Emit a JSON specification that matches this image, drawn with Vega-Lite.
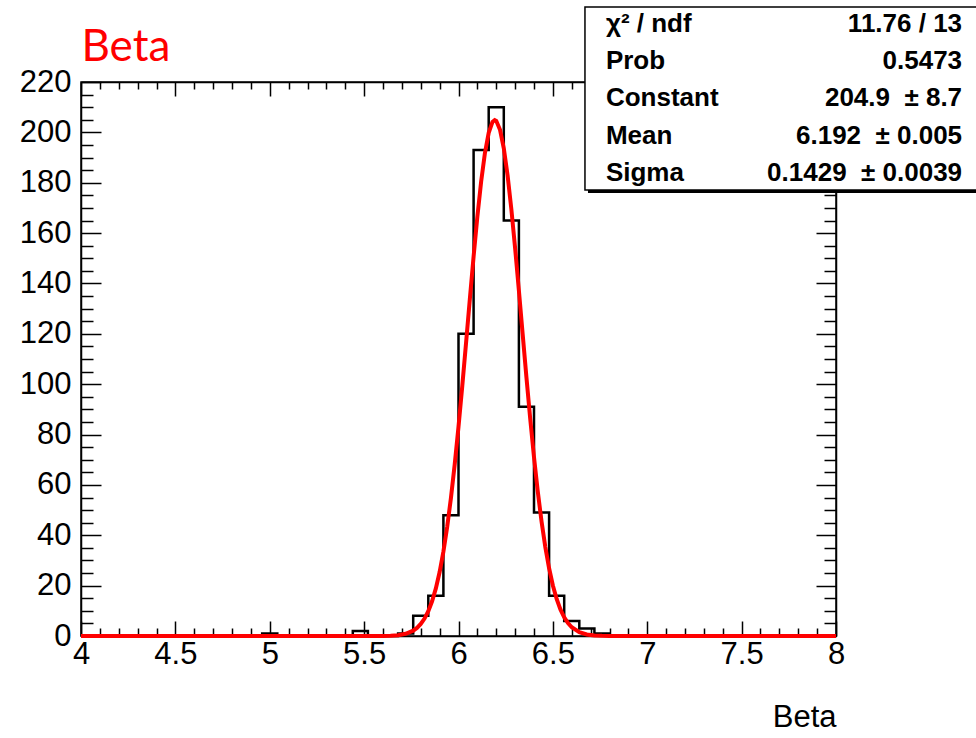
{
  "$schema": "https://vega.github.io/schema/vega-lite/v6.json",
  "width": 755,
  "height": 554,
  "autosize": "none",
  "padding": {"left": 81, "top": 82, "right": 140, "bottom": 102},
  "background": "white",
  "config": {
    "view": {"stroke": "black", "strokeWidth": 1.5},
    "axis": {"grid": false, "labelFont": "Liberation Sans", "labelFontSize": 31, "labelColor": "black", "tickColor": "black", "tickWidth": 1.5, "domainColor": "black", "domainWidth": 1.5, "titleFont": "Liberation Sans", "titleFontSize": 31, "titleFontWeight": "normal", "titleColor": "black", "labelOverlap": false, "labelFlush": false}
  },
  "datasets": {
    "hist": [
      {"low": 4.00, "count": 0}, {"low": 4.08, "count": 0}, {"low": 4.16, "count": 0}, {"low": 4.24, "count": 0},
      {"low": 4.32, "count": 0}, {"low": 4.40, "count": 0}, {"low": 4.48, "count": 0}, {"low": 4.56, "count": 0},
      {"low": 4.64, "count": 0}, {"low": 4.72, "count": 0}, {"low": 4.80, "count": 0}, {"low": 4.88, "count": 0},
      {"low": 4.96, "count": 1}, {"low": 5.04, "count": 0}, {"low": 5.12, "count": 0}, {"low": 5.20, "count": 0},
      {"low": 5.28, "count": 0}, {"low": 5.36, "count": 0}, {"low": 5.44, "count": 2}, {"low": 5.52, "count": 0},
      {"low": 5.60, "count": 0}, {"low": 5.68, "count": 1}, {"low": 5.76, "count": 8}, {"low": 5.84, "count": 16},
      {"low": 5.92, "count": 48}, {"low": 6.00, "count": 120}, {"low": 6.08, "count": 193}, {"low": 6.16, "count": 210},
      {"low": 6.24, "count": 165}, {"low": 6.32, "count": 91}, {"low": 6.40, "count": 49}, {"low": 6.48, "count": 16},
      {"low": 6.56, "count": 6}, {"low": 6.64, "count": 3}, {"low": 6.72, "count": 1}, {"low": 6.80, "count": 0},
      {"low": 6.88, "count": 0}, {"low": 6.96, "count": 0}, {"low": 7.04, "count": 0}, {"low": 7.12, "count": 0},
      {"low": 7.20, "count": 0}, {"low": 7.28, "count": 0}, {"low": 7.36, "count": 0}, {"low": 7.44, "count": 0},
      {"low": 7.52, "count": 0}, {"low": 7.60, "count": 0}, {"low": 7.68, "count": 0}, {"low": 7.76, "count": 0},
      {"low": 7.84, "count": 0}, {"low": 7.92, "count": 0}, {"low": 8.00, "count": 0}
    ],
    "fit": [
      {"x": 4.0, "f": 0}, {"x": 5.0, "f": 0}, {"x": 5.5, "f": 0.001}, {"x": 5.6, "f": 0.038}, {"x": 5.64, "f": 0.118},
      {"x": 5.68, "f": 0.334}, {"x": 5.72, "f": 0.876}, {"x": 5.76, "f": 2.124}, {"x": 5.78, "f": 3.211},
      {"x": 5.80, "f": 4.760}, {"x": 5.82, "f": 6.919}, {"x": 5.84, "f": 9.862}, {"x": 5.86, "f": 13.78},
      {"x": 5.88, "f": 18.90}, {"x": 5.90, "f": 25.40}, {"x": 5.92, "f": 33.49}, {"x": 5.94, "f": 43.28},
      {"x": 5.96, "f": 54.85}, {"x": 5.98, "f": 68.17}, {"x": 6.00, "f": 83.09}, {"x": 6.02, "f": 99.30},
      {"x": 6.04, "f": 116.37}, {"x": 6.06, "f": 133.73}, {"x": 6.08, "f": 150.71}, {"x": 6.10, "f": 166.55},
      {"x": 6.12, "f": 180.47}, {"x": 6.14, "f": 191.77}, {"x": 6.16, "f": 199.83}, {"x": 6.18, "f": 204.18},
      {"x": 6.192, "f": 204.9}, {"x": 6.20, "f": 204.58}, {"x": 6.22, "f": 201.01}, {"x": 6.24, "f": 193.66},
      {"x": 6.26, "f": 182.97}, {"x": 6.28, "f": 169.51}, {"x": 6.30, "f": 154.00}, {"x": 6.32, "f": 137.18},
      {"x": 6.34, "f": 119.84}, {"x": 6.36, "f": 102.67}, {"x": 6.38, "f": 86.24}, {"x": 6.40, "f": 71.04},
      {"x": 6.42, "f": 57.38}, {"x": 6.44, "f": 45.45}, {"x": 6.46, "f": 35.30}, {"x": 6.48, "f": 26.89},
      {"x": 6.50, "f": 20.08}, {"x": 6.52, "f": 14.71}, {"x": 6.54, "f": 10.56}, {"x": 6.56, "f": 7.44},
      {"x": 6.58, "f": 5.14}, {"x": 6.60, "f": 3.48}, {"x": 6.64, "f": 1.50}, {"x": 6.68, "f": 0.60},
      {"x": 6.72, "f": 0.22}, {"x": 6.76, "f": 0.076}, {"x": 6.80, "f": 0.024}, {"x": 7.0, "f": 0}, {"x": 8.0, "f": 0}
    ],
    "stats": [
      {"row": 0, "label": "χ² / ndf", "value": "11.76 / 13"},
      {"row": 1, "label": "Prob", "value": "0.5473"},
      {"row": 2, "label": "Constant", "value": "204.9\u00a0 ± 8.7"},
      {"row": 3, "label": "Mean", "value": "6.192\u00a0 ± 0.005"},
      {"row": 4, "label": "Sigma", "value": "0.1429\u00a0 ± 0.0039"}
    ]
  },
  "resolve": {"scale": {"y": "independent"}, "axis": {"x": "independent", "y": "independent"}},
  "layer": [
    {
      "data": {"name": "hist"},
      "mark": {"type": "line", "interpolate": "step-after", "color": "black", "strokeWidth": 2.5},
      "encoding": {
        "x": {"field": "low", "type": "quantitative", "scale": {"domain": [4, 8], "nice": false, "zero": false},
          "axis": {"orient": "bottom", "title": "Beta", "titleAnchor": "end", "titlePadding": 26,
            "values": [4,4.1,4.2,4.3,4.4,4.5,4.6,4.7,4.8,4.9,5,5.1,5.2,5.3,5.4,5.5,5.6,5.7,5.8,5.9,6,6.1,6.2,6.3,6.4,6.5,6.6,6.7,6.8,6.9,7,7.1,7.2,7.3,7.4,7.5,7.6,7.7,7.8,7.9,8],
            "labelExpr": "abs(datum.value*2 - round(datum.value*2)) < 0.001 ? format(datum.value, '~g') : ''",
            "tickSize": {"condition": {"test": "abs(datum.value*2 - round(datum.value*2)) < 0.001", "value": -15}, "value": -8},
            "labelPadding": 18}},
        "y": {"field": "count", "type": "quantitative", "scale": {"domain": [0, 220], "nice": false},
          "axis": {"orient": "left", "title": null,
            "values": [0,5,10,15,20,25,30,35,40,45,50,55,60,65,70,75,80,85,90,95,100,105,110,115,120,125,130,135,140,145,150,155,160,165,170,175,180,185,190,195,200,205,210,215,220],
            "labelExpr": "datum.value % 20 == 0 ? datum.label : ''",
            "tickSize": {"condition": {"test": "datum.value % 20 == 0", "value": -20}, "value": -12},
            "labelPadding": 30}}
      }
    },
    {
      "data": {"name": "fit"},
      "mark": {"type": "line", "color": "#ff0000", "strokeWidth": 4},
      "encoding": {
        "x": {"field": "x", "type": "quantitative", "scale": {"domain": [4, 8], "nice": false, "zero": false},
          "axis": {"orient": "top", "title": "Beta", "titleColor": "#ff0000", "titleFont": "Lato", "titleFontSize": 44, "titleFontWeight": "normal",
            "titleAnchor": "start", "titleAlign": "left", "titleBaseline": "alphabetic", "titlePadding": 21, "labels": false,
            "values": [4,4.1,4.2,4.3,4.4,4.5,4.6,4.7,4.8,4.9,5,5.1,5.2,5.3,5.4,5.5,5.6,5.7,5.8,5.9,6,6.1,6.2,6.3,6.4,6.5,6.6,6.7,6.8,6.9,7,7.1,7.2,7.3,7.4,7.5,7.6,7.7,7.8,7.9,8],
            "tickSize": {"condition": {"test": "abs(datum.value*2 - round(datum.value*2)) < 0.001", "value": -14}, "value": -7}}},
        "y": {"field": "f", "type": "quantitative", "scale": {"domain": [0, 220], "nice": false},
          "axis": {"orient": "right", "title": null, "labels": false,
            "values": [0,5,10,15,20,25,30,35,40,45,50,55,60,65,70,75,80,85,90,95,100,105,110,115,120,125,130,135,140,145,150,155,160,165,170,175,180,185,190,195,200,205,210,215,220],
            "tickSize": {"condition": {"test": "datum.value % 20 == 0", "value": -20}, "value": -12}}}
      }
    },
    {
      "data": {"values": [{"box": "stats"}]},
      "mark": {"type": "rect", "color": "black"},
      "encoding": {
        "x": {"datum": 6.686, "type": "quantitative", "scale": {"domain": [4, 8], "nice": false, "zero": false}, "axis": null},
        "x2": {"datum": 9.0},
        "y": {"datum": -0.37, "type": "quantitative", "scale": {"domain": [1.56, 16.413], "reverse": true, "nice": false, "zero": false}, "axis": null},
        "y2": {"datum": 4.536}
      }
    },
    {
      "data": {"values": [{"box": "stats"}]},
      "mark": {"type": "rect", "fill": "white", "stroke": "black", "strokeWidth": 1.5},
      "encoding": {
        "x": {"datum": 6.670, "type": "quantitative", "scale": {"domain": [4, 8], "nice": false, "zero": false}, "axis": null},
        "x2": {"datum": 9.0},
        "y": {"datum": -0.45, "type": "quantitative", "scale": {"domain": [1.56, 16.413], "reverse": true, "nice": false, "zero": false}, "axis": null},
        "y2": {"datum": 4.456}
      }
    },
    {
      "data": {"name": "stats"},
      "mark": {"type": "text", "align": "left", "baseline": "middle", "font": "Liberation Sans", "fontWeight": "bold", "fontSize": 26, "color": "black"},
      "encoding": {
        "x": {"datum": 6.781, "type": "quantitative", "scale": {"domain": [4, 8], "nice": false, "zero": false}, "axis": null},
        "y": {"field": "row", "type": "quantitative", "scale": {"domain": [1.56, 16.413], "reverse": true, "nice": false, "zero": false}, "axis": null},
        "text": {"field": "label"}
      }
    },
    {
      "data": {"name": "stats"},
      "mark": {"type": "text", "align": "right", "baseline": "middle", "font": "Liberation Sans", "fontWeight": "bold", "fontSize": 26, "color": "black"},
      "encoding": {
        "x": {"datum": 8.668, "type": "quantitative", "scale": {"domain": [4, 8], "nice": false, "zero": false}, "axis": null},
        "y": {"field": "row", "type": "quantitative", "scale": {"domain": [1.56, 16.413], "reverse": true, "nice": false, "zero": false}, "axis": null},
        "text": {"field": "value"}
      }
    }
  ]
}
